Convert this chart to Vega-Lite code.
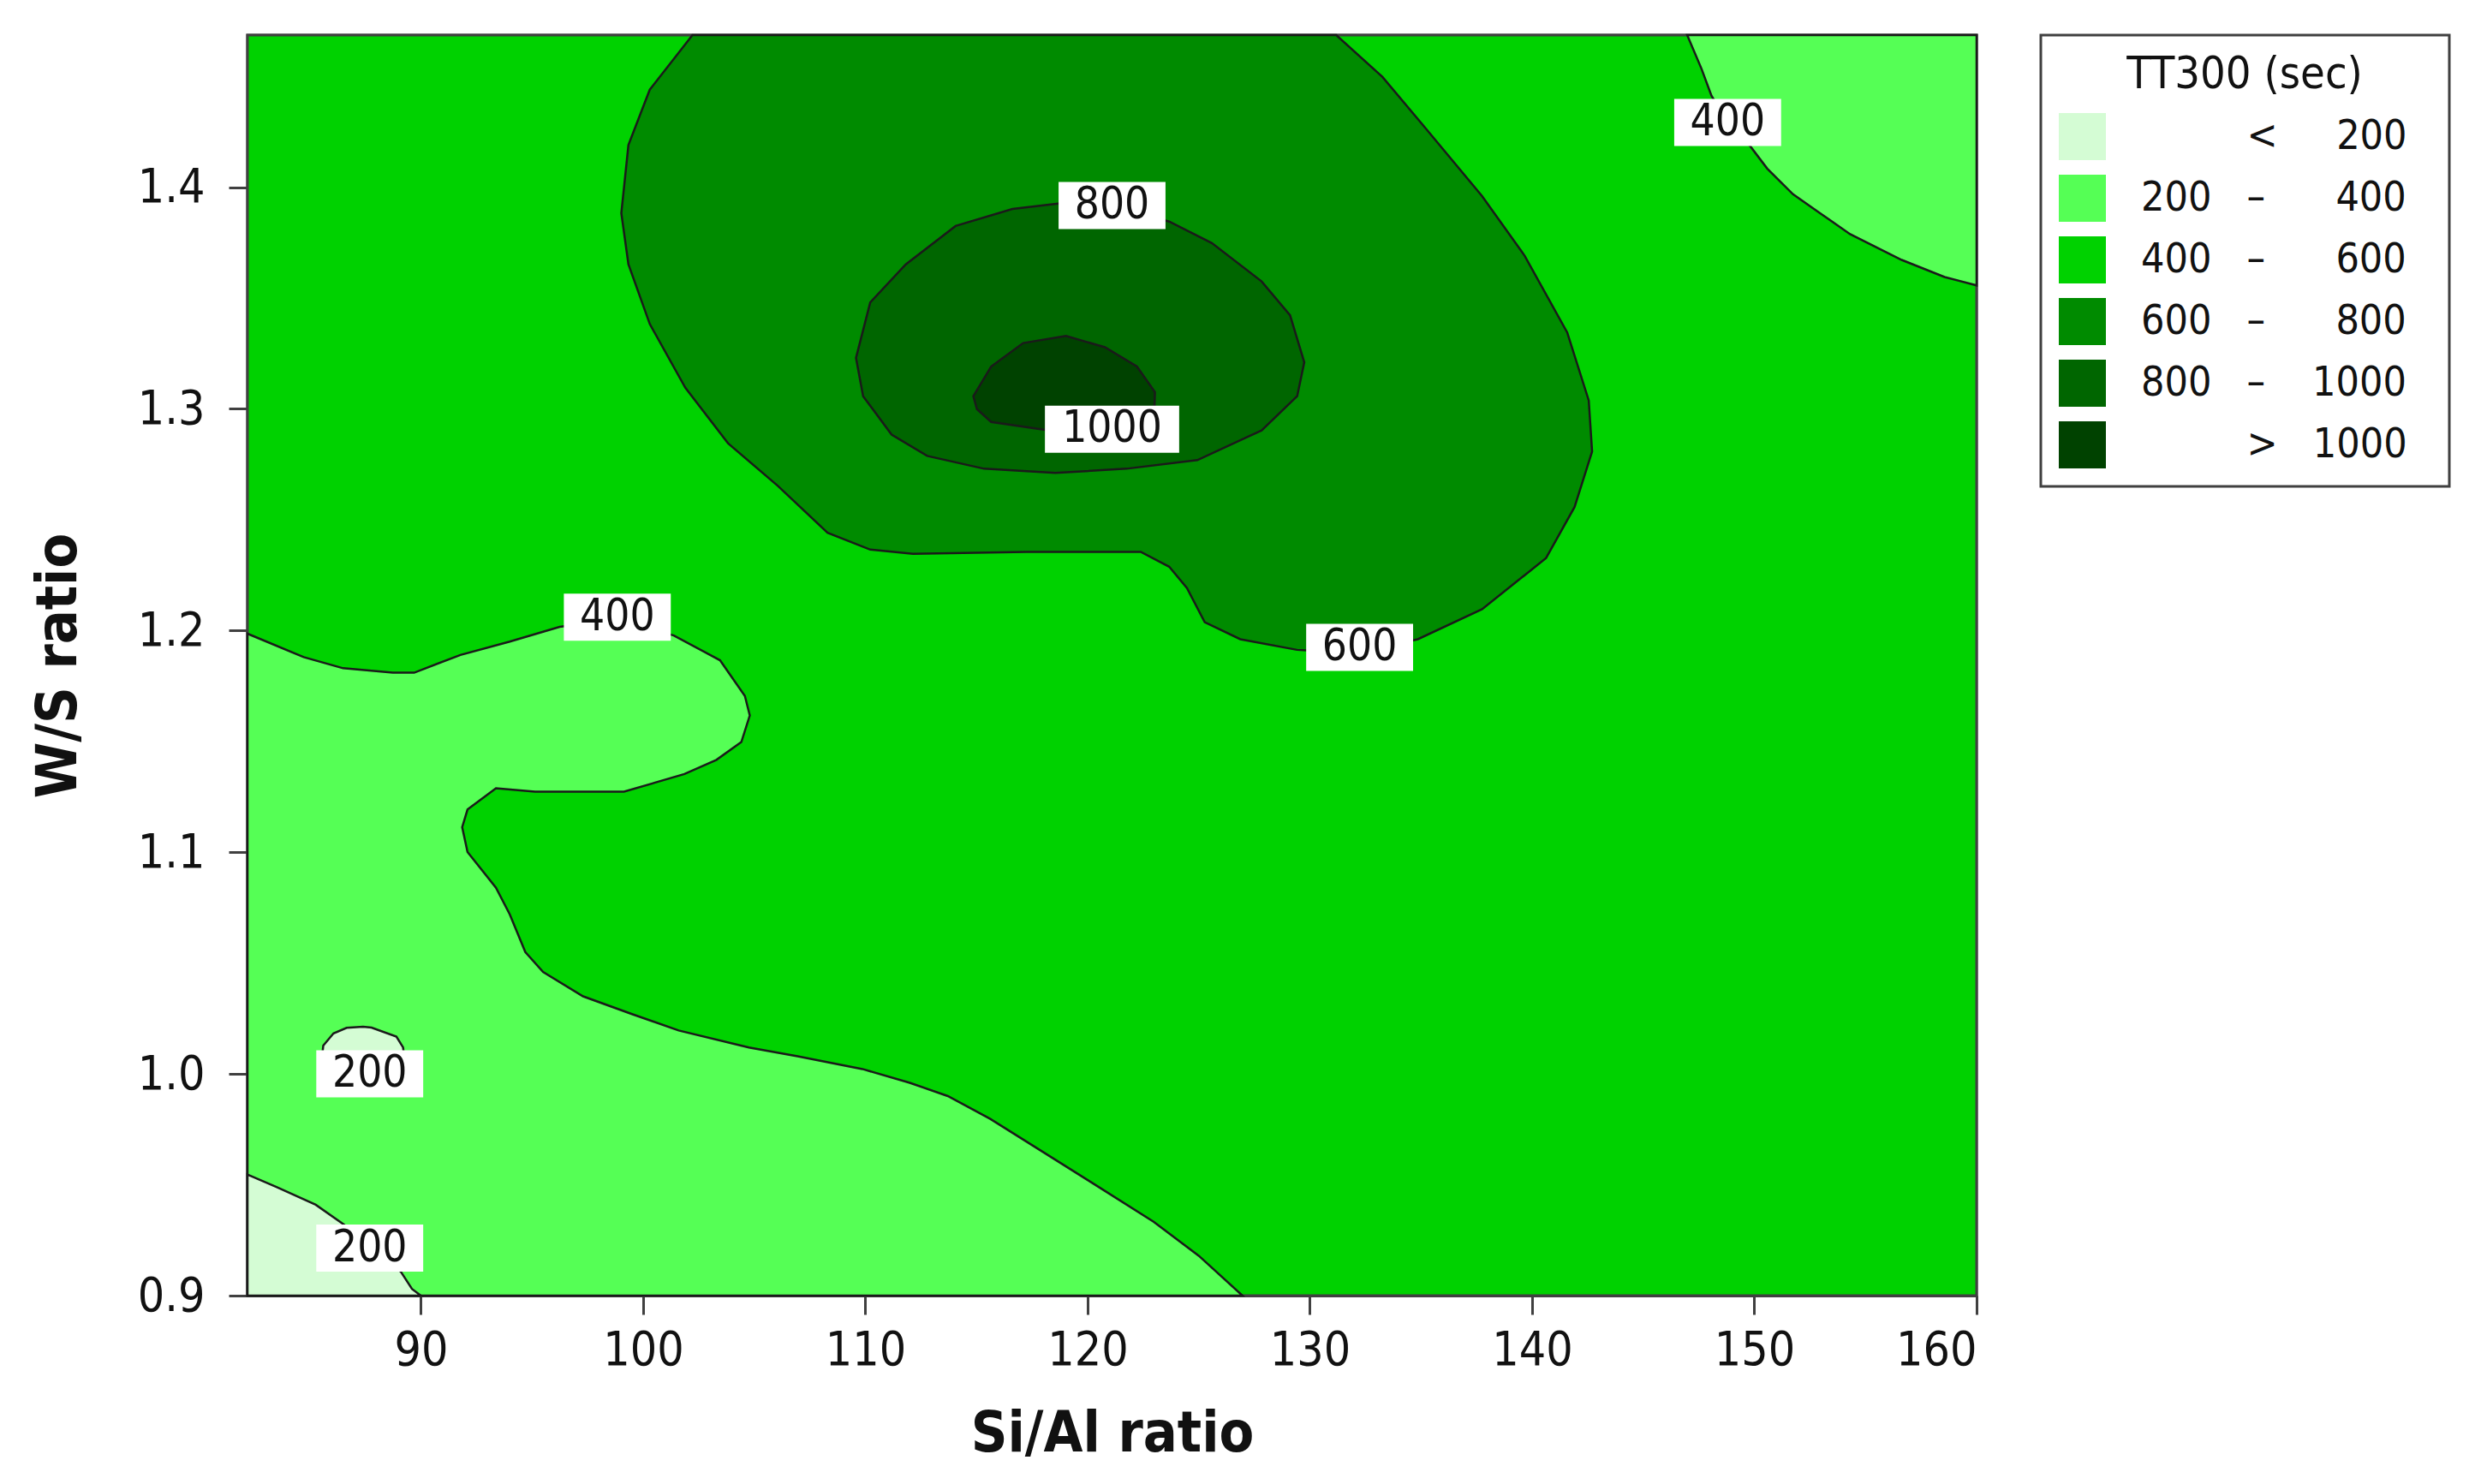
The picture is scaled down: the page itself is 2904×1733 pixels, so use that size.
{
  "$schema": "https://vega.github.io/schema/vega-lite/v6.json",
  "autosize": "none",
  "width": 2019,
  "height": 1472,
  "padding": {"left": 289, "top": 41, "right": 596, "bottom": 220},
  "background": "white",
  "config": {
    "view": {"stroke": "#404040", "strokeWidth": 3},
    "font": "DejaVu Sans Condensed",
    "axis": {
      "grid": false,
      "domainColor": "#404040",
      "domainWidth": 3,
      "tickColor": "#404040",
      "tickWidth": 3,
      "tickSize": 22,
      "labelFont": "DejaVu Sans Condensed",
      "labelFontSize": 55,
      "labelColor": "#111111",
      "labelPadding": 15,
      "titleFont": "DejaVu Sans Condensed",
      "titleFontSize": 66,
      "titleFontWeight": "bold",
      "titleColor": "#111111"
    },
    "legend": {"strokeWidth": 3}
  },
  "datasets": {
    "poly": [
      {"poly": "bg", "band": "400 – 600", "i": 0, "x": 82.2, "y": 0.9},
      {"poly": "bg", "band": "400 – 600", "i": 1, "x": 160, "y": 0.9},
      {"poly": "bg", "band": "400 – 600", "i": 2, "x": 160, "y": 1.4686},
      {"poly": "bg", "band": "400 – 600", "i": 3, "x": 82.2, "y": 1.4686},

      {"poly": "a", "band": "200 – 400", "i": 0, "x": 82.2, "y": 1.1986},
      {"poly": "a", "band": "200 – 400", "i": 1, "x": 84.73, "y": 1.188},
      {"poly": "a", "band": "200 – 400", "i": 2, "x": 86.5, "y": 1.183},
      {"poly": "a", "band": "200 – 400", "i": 3, "x": 88.74, "y": 1.181},
      {"poly": "a", "band": "200 – 400", "i": 4, "x": 89.7, "y": 1.181},
      {"poly": "a", "band": "200 – 400", "i": 5, "x": 91.78, "y": 1.189},
      {"poly": "a", "band": "200 – 400", "i": 6, "x": 94.0, "y": 1.195},
      {"poly": "a", "band": "200 – 400", "i": 7, "x": 96.25, "y": 1.2017},
      {"poly": "a", "band": "200 – 400", "i": 8, "x": 98.8, "y": 1.205},
      {"poly": "a", "band": "200 – 400", "i": 9, "x": 101.38, "y": 1.1978},
      {"poly": "a", "band": "200 – 400", "i": 10, "x": 103.46, "y": 1.1866},
      {"poly": "a", "band": "200 – 400", "i": 11, "x": 104.58, "y": 1.1705},
      {"poly": "a", "band": "200 – 400", "i": 12, "x": 104.8, "y": 1.1617},
      {"poly": "a", "band": "200 – 400", "i": 13, "x": 104.42, "y": 1.1497},
      {"poly": "a", "band": "200 – 400", "i": 14, "x": 103.3, "y": 1.1417},
      {"poly": "a", "band": "200 – 400", "i": 15, "x": 101.86, "y": 1.1353},
      {"poly": "a", "band": "200 – 400", "i": 16, "x": 99.14, "y": 1.1273},
      {"poly": "a", "band": "200 – 400", "i": 17, "x": 95.14, "y": 1.1273},
      {"poly": "a", "band": "200 – 400", "i": 18, "x": 93.38, "y": 1.1289},
      {"poly": "a", "band": "200 – 400", "i": 19, "x": 92.1, "y": 1.1193},
      {"poly": "a", "band": "200 – 400", "i": 20, "x": 91.86, "y": 1.1113},
      {"poly": "a", "band": "200 – 400", "i": 21, "x": 92.1, "y": 1.1001},
      {"poly": "a", "band": "200 – 400", "i": 22, "x": 93.38, "y": 1.084},
      {"poly": "a", "band": "200 – 400", "i": 23, "x": 94.0, "y": 1.072},
      {"poly": "a", "band": "200 – 400", "i": 24, "x": 94.7, "y": 1.055},
      {"poly": "a", "band": "200 – 400", "i": 25, "x": 95.5, "y": 1.046},
      {"poly": "a", "band": "200 – 400", "i": 26, "x": 97.3, "y": 1.035},
      {"poly": "a", "band": "200 – 400", "i": 27, "x": 99.5, "y": 1.027},
      {"poly": "a", "band": "200 – 400", "i": 28, "x": 101.6, "y": 1.0196},
      {"poly": "a", "band": "200 – 400", "i": 29, "x": 104.76, "y": 1.0119},
      {"poly": "a", "band": "200 – 400", "i": 30, "x": 106.95, "y": 1.008},
      {"poly": "a", "band": "200 – 400", "i": 31, "x": 109.87, "y": 1.0022},
      {"poly": "a", "band": "200 – 400", "i": 32, "x": 112.0, "y": 0.996},
      {"poly": "a", "band": "200 – 400", "i": 33, "x": 113.71, "y": 0.99},
      {"poly": "a", "band": "200 – 400", "i": 34, "x": 115.62, "y": 0.9797},
      {"poly": "a", "band": "200 – 400", "i": 35, "x": 117.8, "y": 0.966},
      {"poly": "a", "band": "200 – 400", "i": 36, "x": 120.1, "y": 0.9515},
      {"poly": "a", "band": "200 – 400", "i": 37, "x": 122.97, "y": 0.9333},
      {"poly": "a", "band": "200 – 400", "i": 38, "x": 125.0, "y": 0.918},
      {"poly": "a", "band": "200 – 400", "i": 39, "x": 126.97, "y": 0.9},
      {"poly": "a", "band": "200 – 400", "i": 40, "x": 82.2, "y": 0.9},

      {"poly": "b", "band": "200 – 400", "i": 0, "x": 146.98, "y": 1.4686},
      {"poly": "b", "band": "200 – 400", "i": 1, "x": 147.62, "y": 1.4535},
      {"poly": "b", "band": "200 – 400", "i": 2, "x": 148.07, "y": 1.4413},
      {"poly": "b", "band": "200 – 400", "i": 3, "x": 148.8, "y": 1.429},
      {"poly": "b", "band": "200 – 400", "i": 4, "x": 149.8, "y": 1.4187},
      {"poly": "b", "band": "200 – 400", "i": 5, "x": 150.58, "y": 1.4084},
      {"poly": "b", "band": "200 – 400", "i": 6, "x": 151.74, "y": 1.3968},
      {"poly": "b", "band": "200 – 400", "i": 7, "x": 153.0, "y": 1.388},
      {"poly": "b", "band": "200 – 400", "i": 8, "x": 154.31, "y": 1.3788},
      {"poly": "b", "band": "200 – 400", "i": 9, "x": 156.63, "y": 1.3672},
      {"poly": "b", "band": "200 – 400", "i": 10, "x": 158.56, "y": 1.3595},
      {"poly": "b", "band": "200 – 400", "i": 11, "x": 160, "y": 1.3557},
      {"poly": "b", "band": "200 – 400", "i": 12, "x": 160, "y": 1.4686},

      {"poly": "c", "band": "< 200", "i": 0, "x": 82.2, "y": 0.9546},
      {"poly": "c", "band": "< 200", "i": 1, "x": 83.5, "y": 0.949},
      {"poly": "c", "band": "< 200", "i": 2, "x": 85.27, "y": 0.941},
      {"poly": "c", "band": "< 200", "i": 3, "x": 86.55, "y": 0.932},
      {"poly": "c", "band": "< 200", "i": 4, "x": 87.6, "y": 0.922},
      {"poly": "c", "band": "< 200", "i": 5, "x": 88.6, "y": 0.914},
      {"poly": "c", "band": "< 200", "i": 6, "x": 89.1, "y": 0.9108},
      {"poly": "c", "band": "< 200", "i": 7, "x": 89.6, "y": 0.903},
      {"poly": "c", "band": "< 200", "i": 8, "x": 90.0, "y": 0.9},
      {"poly": "c", "band": "< 200", "i": 9, "x": 82.2, "y": 0.9},

      {"poly": "d", "band": "< 200", "i": 0, "x": 85.5, "y": 1.003},
      {"poly": "d", "band": "< 200", "i": 1, "x": 85.61, "y": 1.0128},
      {"poly": "d", "band": "< 200", "i": 2, "x": 86.07, "y": 1.0183},
      {"poly": "d", "band": "< 200", "i": 3, "x": 86.66, "y": 1.0208},
      {"poly": "d", "band": "< 200", "i": 4, "x": 87.4, "y": 1.0213},
      {"poly": "d", "band": "< 200", "i": 5, "x": 87.78, "y": 1.0209},
      {"poly": "d", "band": "< 200", "i": 6, "x": 88.9, "y": 1.0168},
      {"poly": "d", "band": "< 200", "i": 7, "x": 89.2, "y": 1.012},
      {"poly": "d", "band": "< 200", "i": 8, "x": 89.3, "y": 1.003},

      {"poly": "e", "band": "600 – 800", "i": 0, "x": 102.22, "y": 1.4686},
      {"poly": "e", "band": "600 – 800", "i": 1, "x": 100.3, "y": 1.444},
      {"poly": "e", "band": "600 – 800", "i": 2, "x": 99.34, "y": 1.419},
      {"poly": "e", "band": "600 – 800", "i": 3, "x": 99.02, "y": 1.3883},
      {"poly": "e", "band": "600 – 800", "i": 4, "x": 99.34, "y": 1.3652},
      {"poly": "e", "band": "600 – 800", "i": 5, "x": 100.3, "y": 1.3383},
      {"poly": "e", "band": "600 – 800", "i": 6, "x": 101.9, "y": 1.3095},
      {"poly": "e", "band": "600 – 800", "i": 7, "x": 103.82, "y": 1.2845},
      {"poly": "e", "band": "600 – 800", "i": 8, "x": 106.06, "y": 1.2653},
      {"poly": "e", "band": "600 – 800", "i": 9, "x": 108.3, "y": 1.2441},
      {"poly": "e", "band": "600 – 800", "i": 10, "x": 110.22, "y": 1.2365},
      {"poly": "e", "band": "600 – 800", "i": 11, "x": 112.14, "y": 1.2346},
      {"poly": "e", "band": "600 – 800", "i": 12, "x": 117.26, "y": 1.2355},
      {"poly": "e", "band": "600 – 800", "i": 13, "x": 122.39, "y": 1.2355},
      {"poly": "e", "band": "600 – 800", "i": 14, "x": 123.67, "y": 1.2288},
      {"poly": "e", "band": "600 – 800", "i": 15, "x": 124.47, "y": 1.2192},
      {"poly": "e", "band": "600 – 800", "i": 16, "x": 125.27, "y": 1.2038},
      {"poly": "e", "band": "600 – 800", "i": 17, "x": 126.87, "y": 1.1961},
      {"poly": "e", "band": "600 – 800", "i": 18, "x": 129.42, "y": 1.1913},
      {"poly": "e", "band": "600 – 800", "i": 19, "x": 132.2, "y": 1.19},
      {"poly": "e", "band": "600 – 800", "i": 20, "x": 134.86, "y": 1.1961},
      {"poly": "e", "band": "600 – 800", "i": 21, "x": 137.75, "y": 1.2096},
      {"poly": "e", "band": "600 – 800", "i": 22, "x": 140.63, "y": 1.2327},
      {"poly": "e", "band": "600 – 800", "i": 23, "x": 141.91, "y": 1.2557},
      {"poly": "e", "band": "600 – 800", "i": 24, "x": 142.7, "y": 1.2807},
      {"poly": "e", "band": "600 – 800", "i": 25, "x": 142.55, "y": 1.3038},
      {"poly": "e", "band": "600 – 800", "i": 26, "x": 141.58, "y": 1.3345},
      {"poly": "e", "band": "600 – 800", "i": 27, "x": 139.67, "y": 1.369},
      {"poly": "e", "band": "600 – 800", "i": 28, "x": 137.75, "y": 1.396},
      {"poly": "e", "band": "600 – 800", "i": 29, "x": 135.2, "y": 1.4267},
      {"poly": "e", "band": "600 – 800", "i": 30, "x": 133.27, "y": 1.4497},
      {"poly": "e", "band": "600 – 800", "i": 31, "x": 131.19, "y": 1.4686},

      {"poly": "f", "band": "800 – 1000", "i": 0, "x": 109.58, "y": 1.323},
      {"poly": "f", "band": "800 – 1000", "i": 1, "x": 110.22, "y": 1.348},
      {"poly": "f", "band": "800 – 1000", "i": 2, "x": 111.82, "y": 1.3652},
      {"poly": "f", "band": "800 – 1000", "i": 3, "x": 114.06, "y": 1.3825},
      {"poly": "f", "band": "800 – 1000", "i": 4, "x": 116.62, "y": 1.3902},
      {"poly": "f", "band": "800 – 1000", "i": 5, "x": 119.0, "y": 1.393},
      {"poly": "f", "band": "800 – 1000", "i": 6, "x": 121.1, "y": 1.392},
      {"poly": "f", "band": "800 – 1000", "i": 7, "x": 123.67, "y": 1.3845},
      {"poly": "f", "band": "800 – 1000", "i": 8, "x": 125.59, "y": 1.3748},
      {"poly": "f", "band": "800 – 1000", "i": 9, "x": 127.83, "y": 1.3575},
      {"poly": "f", "band": "800 – 1000", "i": 10, "x": 129.11, "y": 1.3422},
      {"poly": "f", "band": "800 – 1000", "i": 11, "x": 129.75, "y": 1.321},
      {"poly": "f", "band": "800 – 1000", "i": 12, "x": 129.43, "y": 1.3057},
      {"poly": "f", "band": "800 – 1000", "i": 13, "x": 127.83, "y": 1.2903},
      {"poly": "f", "band": "800 – 1000", "i": 14, "x": 124.94, "y": 1.2769},
      {"poly": "f", "band": "800 – 1000", "i": 15, "x": 121.75, "y": 1.273},
      {"poly": "f", "band": "800 – 1000", "i": 16, "x": 118.55, "y": 1.2711},
      {"poly": "f", "band": "800 – 1000", "i": 17, "x": 115.34, "y": 1.273},
      {"poly": "f", "band": "800 – 1000", "i": 18, "x": 112.78, "y": 1.2788},
      {"poly": "f", "band": "800 – 1000", "i": 19, "x": 111.18, "y": 1.2884},
      {"poly": "f", "band": "800 – 1000", "i": 20, "x": 109.9, "y": 1.3057},

      {"poly": "g", "band": "> 1000", "i": 0, "x": 114.86, "y": 1.3057},
      {"poly": "g", "band": "> 1000", "i": 1, "x": 115.66, "y": 1.3191},
      {"poly": "g", "band": "> 1000", "i": 2, "x": 117.1, "y": 1.3297},
      {"poly": "g", "band": "> 1000", "i": 3, "x": 119.03, "y": 1.3329},
      {"poly": "g", "band": "> 1000", "i": 4, "x": 120.78, "y": 1.3278},
      {"poly": "g", "band": "> 1000", "i": 5, "x": 122.22, "y": 1.3191},
      {"poly": "g", "band": "> 1000", "i": 6, "x": 123.03, "y": 1.3076},
      {"poly": "g", "band": "> 1000", "i": 7, "x": 123.0, "y": 1.297},
      {"poly": "g", "band": "> 1000", "i": 8, "x": 120.0, "y": 1.29},
      {"poly": "g", "band": "> 1000", "i": 9, "x": 118.22, "y": 1.2903},
      {"poly": "g", "band": "> 1000", "i": 10, "x": 115.66, "y": 1.2941},
      {"poly": "g", "band": "> 1000", "i": 11, "x": 115.02, "y": 1.2999}
    ],
    "labels": [
      {"text": "800", "x": 121.1, "y": 1.3917},
      {"text": "1000", "x": 121.1, "y": 1.2908},
      {"text": "600", "x": 132.24, "y": 1.1924},
      {"text": "400", "x": 98.84, "y": 1.206},
      {"text": "400", "x": 148.8, "y": 1.4292},
      {"text": "200", "x": 87.7, "y": 1.0},
      {"text": "200", "x": 87.7, "y": 0.9214}
    ]
  },
  "layer": [
    {
      "data": {"name": "poly"},
      "transform": [{"filter": "datum.band == '400 – 600'"}],
      "mark": {"type": "line", "interpolate": "linear-closed", "stroke": "#404040", "strokeWidth": 3},
      "encoding": {
        "x": {"field": "x", "type": "quantitative", "scale": {"domain": [82.2, 160], "nice": false, "zero": false}, "axis": {"values": [90, 100, 110, 120, 130, 140, 150, 160], "title": "Si/Al ratio", "titlePadding": 38}},
        "y": {"field": "y", "type": "quantitative", "scale": {"domain": [0.9, 1.4686], "nice": false, "zero": false}, "axis": {"values": [0.9, 1.0, 1.1, 1.2, 1.3, 1.4], "format": ".1f", "title": "W/S ratio", "titlePadding": 58, "labelPadding": 28}},
        "order": {"field": "i", "type": "quantitative"},
        "detail": {"field": "poly", "type": "nominal"},
        "fill": {
          "field": "band", "type": "nominal",
          "scale": {"domain": ["< 200", "200 – 400", "400 – 600", "600 – 800", "800 – 1000", "> 1000"], "range": ["#d4fcd4", "#55ff55", "#00d200", "#008b00", "#006600", "#004200"]},
          "legend": {
            "title": "TT300 (sec)", "orient": "none", "legendX": 2094, "legendY": 0,
            "symbolType": "square", "symbolSize": 3025, "symbolStrokeWidth": 0,
            "labelFont": "DejaVu Sans Condensed", "labelFontSize": 48, "labelColor": "#111111", "labelOffset": 41, "labelLimit": 1000,
            "titleFont": "DejaVu Sans Condensed", "titleFontSize": 52, "titleFontWeight": "normal", "titleColor": "#111111", "titleAnchor": "middle", "titlePadding": 18, "titleLimit": 1000,
            "padding": 21, "rowPadding": 17, "strokeColor": "#404040", "fillColor": "white", "cornerRadius": 0,
            "labelExpr": "datum.label == '< 200' ? '\u200b\u00a0\u00a0\u00a0\u00a0\u00a0\u00a0\u00a0\u00a0\u00a0<\u00a0\u00a0\u00a0\u00a0\u00a0200\u00a0\u00a0\u200b' : datum.label == '200 – 400' ? '200\u00a0\u00a0\u00a0–\u00a0\u00a0\u00a0\u00a0\u00a0\u00a0400\u00a0\u00a0\u200b' : datum.label == '400 – 600' ? '400\u00a0\u00a0\u00a0–\u00a0\u00a0\u00a0\u00a0\u00a0\u00a0600\u00a0\u00a0\u200b' : datum.label == '600 – 800' ? '600\u00a0\u00a0\u00a0–\u00a0\u00a0\u00a0\u00a0\u00a0\u00a0800\u00a0\u00a0\u200b' : datum.label == '800 – 1000' ? '800\u00a0\u00a0\u00a0–\u00a0\u00a0\u00a0\u00a01000\u00a0\u00a0\u200b' : '\u200b\u00a0\u00a0\u00a0\u00a0\u00a0\u00a0\u00a0\u00a0\u00a0>\u00a0\u00a0\u00a01000\u00a0\u00a0\u200b'",
            "encode": {"symbols": {"update": {"fill": {"scale": "fill", "field": "value"}, "stroke": {"value": "transparent"}, "opacity": {"value": 1}}}}
          }
        }
      }
    },
    {
      "data": {"name": "poly"},
      "transform": [{"filter": "datum.band == '200 – 400'"}],
      "mark": {"type": "line", "interpolate": "linear-closed", "stroke": "#1a1a1a", "strokeWidth": 2.5},
      "encoding": {
        "x": {"field": "x", "type": "quantitative"},
        "y": {"field": "y", "type": "quantitative"},
        "order": {"field": "i", "type": "quantitative"},
        "detail": {"field": "poly", "type": "nominal"},
        "fill": {"field": "band", "type": "nominal"}
      }
    },
    {
      "data": {"name": "poly"},
      "transform": [{"filter": "datum.band == '< 200'"}],
      "mark": {"type": "line", "interpolate": "linear-closed", "stroke": "#1a1a1a", "strokeWidth": 2.5},
      "encoding": {
        "x": {"field": "x", "type": "quantitative"},
        "y": {"field": "y", "type": "quantitative"},
        "order": {"field": "i", "type": "quantitative"},
        "detail": {"field": "poly", "type": "nominal"},
        "fill": {"field": "band", "type": "nominal"}
      }
    },
    {
      "data": {"name": "poly"},
      "transform": [{"filter": "datum.band == '600 – 800'"}],
      "mark": {"type": "line", "interpolate": "linear-closed", "stroke": "#1a1a1a", "strokeWidth": 2.5},
      "encoding": {
        "x": {"field": "x", "type": "quantitative"},
        "y": {"field": "y", "type": "quantitative"},
        "order": {"field": "i", "type": "quantitative"},
        "detail": {"field": "poly", "type": "nominal"},
        "fill": {"field": "band", "type": "nominal"}
      }
    },
    {
      "data": {"name": "poly"},
      "transform": [{"filter": "datum.band == '800 – 1000'"}],
      "mark": {"type": "line", "interpolate": "linear-closed", "stroke": "#1a1a1a", "strokeWidth": 2.5},
      "encoding": {
        "x": {"field": "x", "type": "quantitative"},
        "y": {"field": "y", "type": "quantitative"},
        "order": {"field": "i", "type": "quantitative"},
        "detail": {"field": "poly", "type": "nominal"},
        "fill": {"field": "band", "type": "nominal"}
      }
    },
    {
      "data": {"name": "poly"},
      "transform": [{"filter": "datum.band == '> 1000'"}],
      "mark": {"type": "line", "interpolate": "linear-closed", "stroke": "#1a1a1a", "strokeWidth": 2.5},
      "encoding": {
        "x": {"field": "x", "type": "quantitative"},
        "y": {"field": "y", "type": "quantitative"},
        "order": {"field": "i", "type": "quantitative"},
        "detail": {"field": "poly", "type": "nominal"},
        "fill": {"field": "band", "type": "nominal"}
      }
    },
    {
      "data": {"name": "labels"},
      "transform": [{"filter": "length(datum.text) <= 3"}],
      "mark": {"type": "point", "shape": "M-2.27,-1L2.27,-1L2.27,1L-2.27,1Z", "size": 3025, "filled": true, "fill": "white", "strokeWidth": 0, "opacity": 1},
      "encoding": {
        "x": {"field": "x", "type": "quantitative"},
        "y": {"field": "y", "type": "quantitative"}
      }
    },
    {
      "data": {"name": "labels"},
      "transform": [{"filter": "length(datum.text) > 3"}],
      "mark": {"type": "point", "shape": "M-2.85,-1L2.85,-1L2.85,1L-2.85,1Z", "size": 3025, "filled": true, "fill": "white", "strokeWidth": 0, "opacity": 1},
      "encoding": {
        "x": {"field": "x", "type": "quantitative"},
        "y": {"field": "y", "type": "quantitative"}
      }
    },
    {
      "data": {"name": "labels"},
      "mark": {"type": "text", "font": "DejaVu Sans Condensed", "fontSize": 51, "color": "#111111", "align": "center", "baseline": "middle"},
      "encoding": {
        "x": {"field": "x", "type": "quantitative"},
        "y": {"field": "y", "type": "quantitative"},
        "text": {"field": "text", "type": "nominal"}
      }
    }
  ]
}
